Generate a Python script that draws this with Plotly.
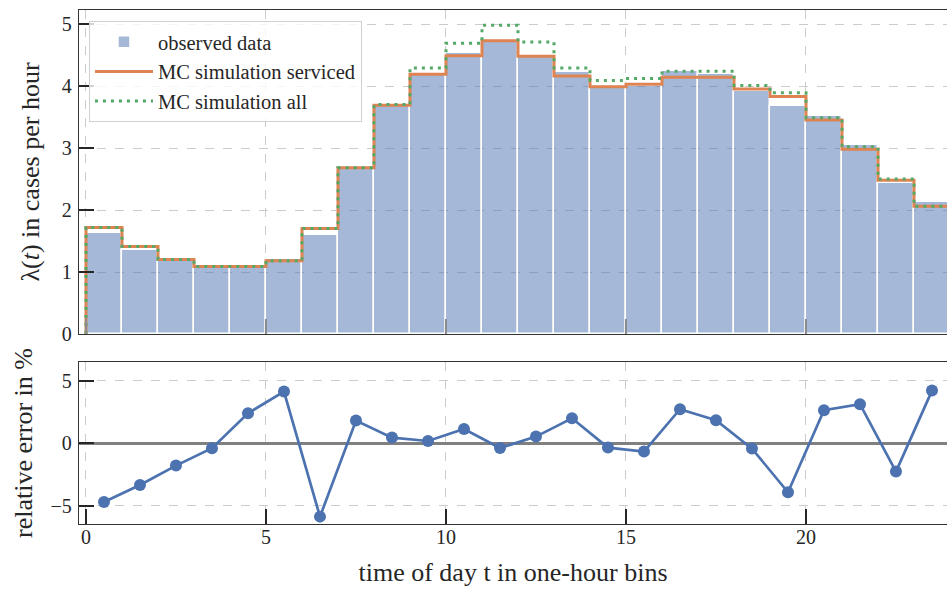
import numpy as np
import plotly.graph_objects as go
from plotly.subplots import make_subplots

# ---- data ----
hours = list(range(24))
observed = [1.63, 1.36, 1.17, 1.08, 1.08, 1.21, 1.59, 2.67, 3.68, 4.17, 4.53, 4.71,
            4.47, 4.23, 3.98, 4.00, 4.24, 4.20, 3.92, 3.68, 3.52, 3.05, 2.43, 2.13]
sim_serviced = [1.72, 1.41, 1.20, 1.09, 1.09, 1.18, 1.70, 2.68, 3.69, 4.19, 4.49, 4.73,
                4.48, 4.16, 3.99, 4.03, 4.14, 4.14, 3.95, 3.83, 3.45, 2.98, 2.48, 2.06]
sim_all = [1.72, 1.41, 1.20, 1.09, 1.09, 1.18, 1.70, 2.68, 3.70, 4.29, 4.69, 4.98,
           4.71, 4.29, 4.09, 4.12, 4.24, 4.24, 4.01, 3.89, 3.49, 3.02, 2.50, 2.06]
rel_error = [-4.70, -3.34, -1.79, -0.40, 2.40, 4.13, -5.87, 1.81, 0.45, 0.18, 1.14, -0.38,
             0.53, 2.00, -0.35, -0.67, 2.72, 1.84, -0.43, -3.92, 2.64, 3.12, -2.27, 4.21]
x_ticks = [0, 5, 10, 15, 20]
y_ticks_top = [0, 1, 2, 3, 4, 5]
y_ticks_bottom = [-5, 0, 5]

FONT = "Liberation Serif"
DARK = "#262626"
BLUE = "#4c72b0"
ORANGE = "#dd8452"
GREEN = "#55a868"

centers = np.array(hours) + 0.5


def step_xy(vals):
    # histogram-style outline (matplotlib histtype="step")
    xs = [hours[0]] + hours + [hours[-1] + 1, hours[-1] + 1]
    ys = [0] + list(vals) + [vals[-1], 0]
    return xs, ys


fig = make_subplots(rows=2, cols=1, shared_xaxes=True, vertical_spacing=0.0,
                    row_heights=[0.67, 0.33])

fig.add_trace(go.Bar(x=centers, y=observed, width=1.0, name="observed data",
                     marker=dict(color="rgba(76,114,176,0.5)",
                                 line=dict(color="white", width=1.5))),
              row=1, col=1)

xs, ys = step_xy(sim_serviced)
fig.add_trace(go.Scatter(x=xs, y=ys, mode="lines", line_shape="hv",
                         name="MC simulation serviced",
                         line=dict(color=ORANGE, width=3)), row=1, col=1)
xs, ys = step_xy(sim_all)
fig.add_trace(go.Scatter(x=xs, y=ys, mode="lines", line_shape="hv",
                         name="MC simulation all",
                         line=dict(color=GREEN, width=3, dash="3px,5px")), row=1, col=1)

fig.add_trace(go.Scatter(x=centers, y=rel_error, mode="lines+markers", showlegend=False,
                         line=dict(color=BLUE, width=2.7),
                         marker=dict(color=BLUE, size=12)), row=2, col=1)

axis_common = dict(showline=True, linecolor="#333333", linewidth=1.3,
                   ticks="inside", ticklen=15, tickwidth=1.5, tickcolor=DARK,
                   showgrid=True, gridcolor="#cccccc", gridwidth=1, griddash="dash",
                   tickfont=dict(family=FONT, size=20, color=DARK))

xr = [-0.194, 23.917]
fig.update_xaxes(**axis_common)
fig.update_xaxes(range=xr, tickvals=x_ticks, zeroline=False, mirror=True)
fig.update_xaxes(row=1, col=1, showticklabels=False, tickcolor="#8c8c8c",
                 domain=[0, 1])
fig.update_xaxes(row=2, col=1, ticklabelstandoff=-5,
                 title=dict(text="time of day t in one-hour bins", standoff=15,
                            font=dict(family=FONT, size=26, color=DARK)))

fig.update_yaxes(**axis_common)
fig.update_yaxes(row=1, col=1, range=[0, 5.226], tickvals=y_ticks_top, zeroline=False,
                 domain=[0.3696, 1.0], ticklabelstandoff=2,
                 title=dict(text="λ(<i>t</i>) in cases per hour", standoff=14,
                            font=dict(family=FONT, size=26, color=DARK)))
fig.update_yaxes(row=2, col=1, range=[-6.46, 6.5], tickvals=y_ticks_bottom,
                 domain=[0.0, 0.3152], ticklabelstandoff=2,
                 zeroline=True, zerolinecolor="#808080", zerolinewidth=3.3,
                 title=dict(text="relative error in %", standoff=10,
                            font=dict(family=FONT, size=26, color=DARK)))

fig.update_layout(
    width=947, height=590,
    margin=dict(l=79, r=0, t=10, b=66),
    paper_bgcolor="white", plot_bgcolor="white",
    font=dict(family=FONT, color=DARK),
    bargap=0,
    legend=dict(x=0.0115, y=0.9786, xanchor="left", yanchor="top",
                bgcolor="rgba(255,255,255,0.8)", bordercolor="#d0d0d0", borderwidth=1,
                font=dict(family=FONT, size=20.5, color=DARK), itemwidth=58,
                tracegroupgap=0),
)

fig.write_html("out.html")
